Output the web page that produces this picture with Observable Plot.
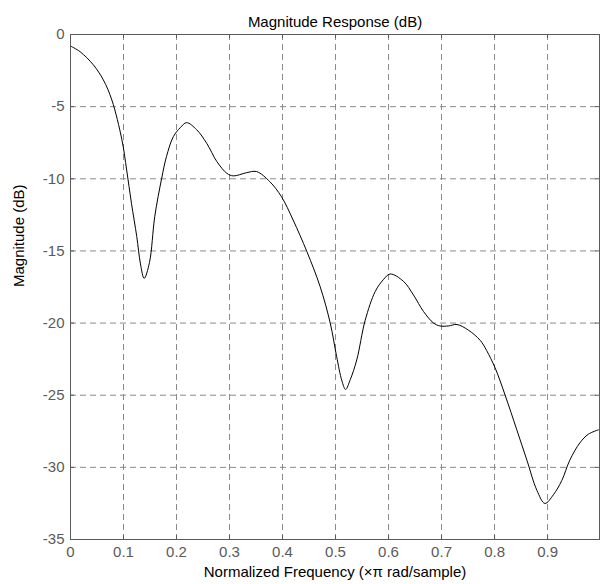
<!DOCTYPE html>
<html>
<head>
<meta charset="utf-8">
<script src="https://cdn.jsdelivr.net/npm/d3@7"></script>
<script src="https://cdn.jsdelivr.net/npm/@observablehq/plot@0.6"></script>
<style>
  html, body { margin: 0; padding: 0; background: #fff; }
  svg { display: block; }
</style>
</head>
<body>
<div id="chart"></div>
<script>
const titleText = "Magnitude Response (dB)";
const xLabel = "Normalized Frequency (\u00d7\u03c0 rad/sample)";
const yLabel = "Magnitude (dB)";

const xTicks = [0, 0.1, 0.2, 0.3, 0.4, 0.5, 0.6, 0.7, 0.8, 0.9];
const yTicks = [-35, -30, -25, -20, -15, -10, -5, 0];
const xDomain = [0, 0.998];
const yDomain = [-35, 0];

const freq = [
  0, 0.018, 0.043, 0.062, 0.078, 0.097, 0.106, 0.115, 0.125, 0.132,
  0.139, 0.149, 0.159, 0.172, 0.181, 0.194, 0.207, 0.219, 0.238, 0.257,
  0.276, 0.295, 0.307, 0.332, 0.351, 0.376, 0.398, 0.420, 0.446, 0.471,
  0.490, 0.502, 0.512, 0.519, 0.528, 0.540, 0.556, 0.575, 0.590, 0.603,
  0.628, 0.647, 0.666, 0.685, 0.697, 0.713, 0.729, 0.751, 0.773, 0.785,
  0.801, 0.820, 0.842, 0.861, 0.880, 0.895, 0.911, 0.927, 0.942, 0.961,
  0.977, 0.996
];
const magnitude = [
  -0.8, -1.19, -2.1, -3.15, -4.54, -7.3, -9.4, -11.7, -14.0, -15.9,
  -16.9, -15.8, -12.6, -9.97, -8.47, -7.08, -6.46, -6.11, -6.6, -7.54,
  -8.8, -9.62, -9.8, -9.58, -9.5, -10.2, -11.24, -12.86, -15.05, -17.48,
  -20.0, -22.3, -24.0, -24.6, -23.9, -22.56, -19.8, -17.8, -17.0, -16.6,
  -17.1, -18.05, -19.2, -20.0, -20.2, -20.2, -20.1, -20.5, -21.2, -21.9,
  -23.1, -25.0, -27.4, -29.5, -31.6, -32.5, -31.9, -30.9, -29.5, -28.3,
  -27.7, -27.4
];

const data = freq.map((f, i) => ({f, m: magnitude[i]}));

const gridColor = "#8a8a8a";
const axisColor = "#5a5a5a";

const chart = Plot.plot({
  width: 600,
  height: 584,
  marginLeft: 70,
  marginRight: 1,
  marginTop: 34,
  marginBottom: 45,
  style: {fontFamily: "'Liberation Sans', Arial, Helvetica, sans-serif", fontSize: "15px", background: "#fff"},
  x: {domain: xDomain, range: [70, 599]},
  y: {domain: yDomain},
  marks: [
    // dashed grid
    Plot.ruleX(xTicks.slice(1), {x: d => d, stroke: gridColor, strokeDasharray: "6,4", strokeWidth: 1}),
    Plot.ruleY(yTicks.slice(1, -1), {y: d => d, stroke: gridColor, strokeDasharray: "6,4", strokeWidth: 1}),
    // inward ticks bottom / top
    Plot.ruleX(xTicks, {x: d => d, y1: yDomain[0], y2: yDomain[0], insetTop: -4, stroke: axisColor}),
    Plot.ruleX(xTicks, {x: d => d, y1: yDomain[1], y2: yDomain[1], insetBottom: -4, stroke: axisColor}),
    // inward ticks left / right
    Plot.ruleY(yTicks, {y: d => d, x1: xDomain[0], x2: xDomain[0], insetRight: -4, stroke: axisColor}),
    Plot.ruleY(yTicks, {y: d => d, x1: xDomain[1], x2: xDomain[1], insetLeft: -4, stroke: axisColor}),
    Plot.axisX({ticks: xTicks, tickSize: 0, tickPadding: 7, tickFormat: d => String(d), label: null, color: axisColor, fontSize: 15}),
    Plot.axisY({ticks: yTicks, tickSize: 0, tickPadding: 6, tickFormat: d => String(d), label: null, color: axisColor, fontSize: 15}),
    Plot.line(data, {x: "f", y: "m", stroke: "#000", strokeWidth: 1, curve: "catmull-rom"}),
    Plot.frame({stroke: axisColor, strokeWidth: 1}),
    Plot.text([titleText], {text: d => d, frameAnchor: "top", dy: -18, fill: "#000", fontSize: 15}),
    Plot.text([xLabel], {text: d => d, frameAnchor: "bottom", dy: 37, fill: "#000", fontSize: 15}),
    Plot.text([yLabel], {text: d => d, frameAnchor: "left", dx: -51, rotate: -90, fill: "#000", fontSize: 15})
  ]
});

document.getElementById("chart").appendChild(chart);
</script>
</body>
</html>
